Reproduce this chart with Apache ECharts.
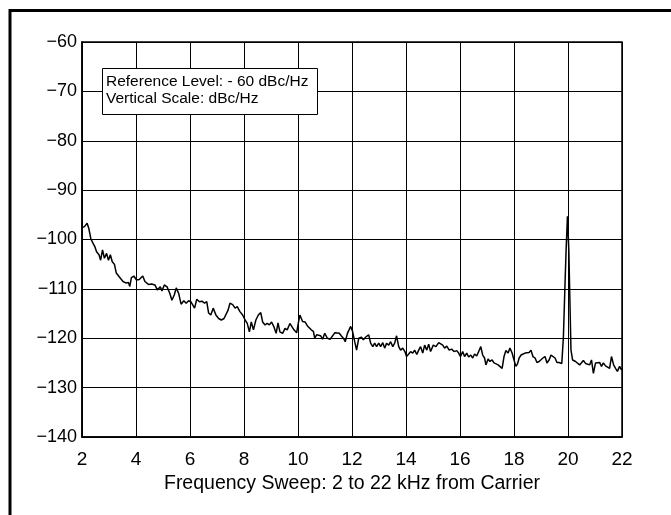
<!DOCTYPE html>
<html>
<head>
<meta charset="utf-8">
<script src="https://cdn.jsdelivr.net/npm/echarts@6/dist/echarts.min.js"></script>
<style>
  html, body { margin: 0; padding: 0; background: #fff; }
  #chart { width: 671px; height: 515px; }
</style>
</head>
<body>
<div id="chart"></div>
<script>
// frequency offset from carrier, kHz
const freqKHz = [
  2.0, 2.09, 2.19, 2.25, 2.33, 2.41, 2.48, 2.54, 2.63, 2.69, 2.76, 2.83, 2.91, 2.98,
  3.05, 3.12, 3.20, 3.27, 3.37, 3.44, 3.52, 3.62, 3.72, 3.77, 3.83, 3.92, 4.02, 4.12,
  4.25, 4.33, 4.46, 4.58, 4.70, 4.79, 4.90, 4.96, 5.05, 5.15, 5.25, 5.33, 5.42, 5.49,
  5.58, 5.67, 5.77, 5.86, 5.95,
  6.03, 6.10, 6.17, 6.25, 6.35, 6.44, 6.54, 6.62, 6.69, 6.77, 6.86, 6.96, 7.06, 7.16,
  7.26, 7.33, 7.41, 7.48, 7.58, 7.67, 7.75, 7.85, 7.95, 8.04, 8.12, 8.20, 8.27, 8.35,
  8.44, 8.53, 8.62, 8.69, 8.78, 8.86, 8.94, 9.02, 9.11, 9.19, 9.26, 9.33, 9.43, 9.52,
  9.60, 9.70, 9.78, 9.85, 9.95, 10.01,
  10.07, 10.17, 10.26, 10.35, 10.42, 10.49, 10.57, 10.62, 10.69, 10.75, 10.84, 10.91,
  10.99, 11.09, 11.19, 11.26, 11.36, 11.43, 11.53, 11.60, 11.68, 11.75, 11.83, 11.90,
  11.95, 12.02, 12.10, 12.17, 12.25, 12.35, 12.42, 12.52, 12.62, 12.69, 12.77, 12.84,
  12.91, 12.99, 13.06, 13.14, 13.21, 13.28, 13.36, 13.43, 13.51, 13.58, 13.65, 13.73,
  13.80, 13.88, 13.96, 14.02, 14.10,
  14.17, 14.25, 14.32, 14.40, 14.47, 14.54, 14.62, 14.69, 14.77, 14.84, 14.91, 15.01,
  15.11, 15.21, 15.28, 15.36, 15.43, 15.51, 15.60, 15.69, 15.78, 15.88, 15.95, 16.02,
  16.10, 16.17, 16.25, 16.32, 16.40, 16.47, 16.54, 16.62, 16.69, 16.77, 16.84, 16.91,
  16.96, 17.04, 17.11, 17.19, 17.26, 17.33, 17.41, 17.48, 17.56, 17.63, 17.70, 17.78,
  17.85, 17.93, 18.00,
  18.07, 18.13, 18.19, 18.26, 18.33, 18.41, 18.48, 18.56, 18.63, 18.70, 18.78, 18.85,
  18.93, 19.00, 19.07, 19.15, 19.22, 19.30, 19.37, 19.44, 19.52, 19.59, 19.67, 19.74,
  19.77, 19.83, 19.89, 19.93, 19.98, 20.03, 20.07, 20.11, 20.17,
  20.21, 20.28, 20.35, 20.43, 20.50, 20.57, 20.65, 20.72, 20.80, 20.87, 20.94, 21.02,
  21.09, 21.17, 21.24, 21.31, 21.39, 21.46, 21.54, 21.61, 21.69, 21.76, 21.83, 21.91,
  21.98, 22.0
];

// noise level, dBc/Hz
const levelDbc = [
  -97.6, -97.4, -96.7, -97.7, -99.9, -100.8, -101.5, -102.5, -103.1, -104.2, -102.1, -103.8, -102.8, -104.2,
  -103.1, -104.5, -105.0, -106.8, -107.5, -107.4, -108.5, -108.8, -108.7, -109.5, -107.7, -107.4, -108.2, -108.1,
  -107.4, -108.5, -109.1, -109.0, -109.2, -110.2, -109.6, -110.4, -109.2, -109.6, -110.9, -112.3, -111.2, -109.8,
  -110.9, -113.1, -112.4, -112.9, -112.4,
  -112.6, -112.3, -113.9, -112.1, -112.6, -112.5, -112.9, -112.6, -114.9, -115.3, -113.9, -115.3, -116.0, -116.3,
  -116.0, -116.3, -114.3, -112.9, -113.2, -113.9, -113.6, -114.6, -115.3, -116.3, -117.0, -118.7, -116.7, -118.3,
  -116.3, -115.3, -114.8, -116.7, -117.3, -117.0, -117.3, -116.7, -117.7, -119.0, -116.9, -118.7, -119.0, -118.0,
  -118.3, -117.0, -117.7, -118.3, -118.9, -117.0,
  -115.3, -116.6, -116.7, -117.5, -117.6, -118.3, -118.6, -120.0, -119.3, -119.0, -119.5, -120.2,
  -119.0, -120.0, -120.2, -119.8, -118.9, -119.1, -119.0, -119.5, -120.0, -120.7, -119.0, -118.2,
  -117.6, -118.6, -120.7, -122.4, -120.0, -119.8, -120.3, -119.7, -119.3, -121.0, -121.7, -121.0,
  -121.7, -121.0, -121.7, -120.9, -122.0, -121.0, -121.4, -120.7, -121.7, -121.0, -119.5, -121.7,
  -122.4, -122.0, -122.7, -123.7, -123.2,
  -122.7, -123.0, -122.4, -123.3, -122.4, -121.7, -123.0, -121.4, -122.4, -121.2, -122.7, -121.4,
  -121.7, -120.9, -120.5, -121.4, -122.0, -121.6, -122.4, -122.2, -122.7, -122.5, -123.0, -123.7,
  -122.7, -123.7, -123.0, -123.8, -123.4, -124.0, -123.2, -123.6, -123.7, -121.7, -123.4, -124.0,
  -125.4, -124.2, -124.7, -124.4, -125.0, -124.7, -125.4, -125.0, -126.1, -123.7, -122.5, -123.0,
  -122.0, -123.0, -124.4,
  -125.7, -125.2, -124.0, -123.4, -123.7, -123.0, -123.4, -122.9, -122.4, -123.7, -124.0, -124.9,
  -124.7, -125.0, -124.0, -123.7, -125.0, -124.4, -123.4, -123.0, -124.0, -124.9, -124.9, -124.7,
  -125.1, -119.7, -108.9, -102.1, -95.3, -102.1, -112.3, -122.4, -124.4,
  -124.0, -124.7, -124.9, -125.4, -125.0, -124.5, -125.1, -124.7, -125.4, -124.4, -127.1, -125.0,
  -125.4, -124.9, -125.7, -125.0, -125.6, -125.4, -126.1, -123.7, -125.4, -126.1, -126.7, -125.7,
  -126.4, -126.1
];

const yTicks = [-60, -70, -80, -90, -100, -110, -120, -130, -140];
const xTicks = [2, 4, 6, 8, 10, 12, 14, 16, 18, 20, 22];

const chart = echarts.init(document.getElementById("chart"), null, {renderer: "canvas"});

const font = "Liberation Sans, Arial, Helvetica, sans-serif";

const option = {
  animation: false,
  backgroundColor: "#fff",
  grid: {left: 82, top: 42, right: 49, bottom: 78, show: true, borderColor: "#000", borderWidth: 1.5},
  xAxis: {
    type: "value",
    min: xTicks[0],
    max: xTicks[xTicks.length - 1],
    interval: 2,
    name: "Frequency Sweep: 2 to 22 kHz from Carrier",
    nameLocation: "middle",
    nameGap: 33,
    nameTextStyle: {color: "#000", fontSize: 19.5, fontFamily: font},
    axisLine: {show: true, lineStyle: {color: "#000", width: 1.5}},
    axisTick: {show: false},
    axisLabel: {color: "#000", fontSize: 19, fontFamily: font, margin: 13},
    splitLine: {show: true, lineStyle: {color: "#000", width: 1}},
  },
  yAxis: {
    type: "value",
    min: yTicks[yTicks.length - 1],
    max: yTicks[0],
    interval: 10,
    axisLine: {show: true, lineStyle: {color: "#000", width: 1.5}},
    axisTick: {show: false},
    axisLabel: {
      color: "#000", fontSize: 18, fontFamily: font, margin: 5,
      formatter: (v) => (v < 0 ? "\u2212" + Math.abs(v) : String(v)),
    },
    splitLine: {show: true, lineStyle: {color: "#000", width: 1}},
  },
  series: [{
    type: "line",
    data: freqKHz.map((f, i) => [f, levelDbc[i]]),
    showSymbol: false,
    lineStyle: {color: "#000", width: 1.5},
    z: 5,
  }],
  graphic: [
    {
      type: "rect",
      shape: {x: 10, y: 10.5, width: 720, height: 620},
      style: {fill: "none", stroke: "#000", lineWidth: 3},
      silent: true,
    },
    {
      type: "rect",
      shape: {x: 102.5, y: 68.5, width: 215, height: 46},
      style: {fill: "#fff", stroke: "#000", lineWidth: 1},
      z: 10,
    },
    {
      type: "text",
      left: 106,
      top: 73.5,
      z: 11,
      style: {text: "Reference Level: - 60 dBc/Hz", fill: "#000", font: "15.5px " + font},
    },
    {
      type: "text",
      left: 106,
      top: 91,
      z: 11,
      style: {text: "Vertical Scale: dBc/Hz", fill: "#000", font: "15.5px " + font},
    },
  ],
};

chart.setOption(option);
</script>
</body>
</html>
